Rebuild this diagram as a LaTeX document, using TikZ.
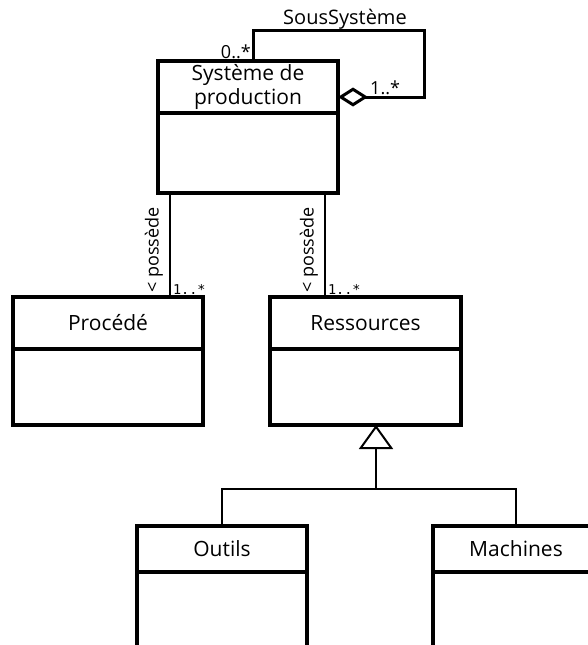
\documentclass[tikz,border=0pt]{standalone}
\usepackage{fontspec}
\setmainfont{Open Sans}
\newfontfamily\multfont{DejaVu Sans Mono}
\usetikzlibrary{positioning, arrows.meta}

\tikzset{
  classhead/.style={draw, rectangle, line width=3.5pt, outer sep=0pt, inner sep=2pt, align=center, font=\fontsize{21}{24}\selectfont},
  classbody/.style={draw, rectangle, line width=3.5pt, outer sep=0pt},
  assoc/.style={line width=2pt},
  selfassoc/.style={line width=3pt},
  role/.style={font=\fontsize{18}{20}\selectfont, inner sep=2pt},
  mult/.style={font=\multfont\fontsize{13.5}{15}\selectfont, inner sep=2pt},
}

\begin{document}
\begin{tikzpicture}[x=1pt, y=-1pt]
  \clip (0,0) rectangle (588,645);

  % classes: name compartment + empty body
  \node[classhead, minimum width=180, minimum height=52] (sys) at (248,87) {Système de\\production};
  \node[classbody, minimum width=180, minimum height=80, below=0pt of sys] (sysb) {};

  \node[classhead, minimum width=190, minimum height=52] (proc) at (108,323) {Procédé};
  \node[classbody, minimum width=190, minimum height=76, below=0pt of proc] (procb) {};

  \node[classhead, minimum width=191, minimum height=52] (res) at (365.5,323) {Ressources};
  \node[classbody, minimum width=191, minimum height=76, below=0pt of res] (resb) {};

  \node[classhead, minimum width=170, minimum height=46] (outils) at (222,549) {Outils};
  \node[classbody, minimum width=170, minimum height=90, below=0pt of outils] (outilsb) {};

  \node[classhead, minimum width=166, minimum height=46] (mach) at (516,549) {Machines};
  \node[classbody, minimum width=166, minimum height=90, below=0pt of mach] (machb) {};

  % self aggregation
  \coordinate (selfx) at (253,0);
  \coordinate (loopc) at (424,30);
  \draw[selfassoc, {Diamond[open, length=30pt, width=19pt]}-] ([yshift=-10pt]sys.east) -| (loopc) -| (sys.north -| selfx);
  \node[role, font=\fontsize{20}{22}\selectfont] at (345,19) {SousSystème};
  \node[role, anchor=south east] at (sys.north -| selfx) {0..*};
  \node[role, anchor=south west] at ([xshift=30pt, yshift=-10pt]sys.east) {1..*};

  % associations
  \coordinate (x1) at (170,0);
  \coordinate (x2) at (325,0);
  \draw[assoc] (sysb.south -| x1) -- node[role, rotate=90, anchor=south, pos=0.55, inner sep=6pt] {< possède}
    node[mult, pos=1, anchor=south west] {1..*} (proc.north -| x1);
  \draw[assoc] (sysb.south -| x2) -- node[role, rotate=90, anchor=south, pos=0.55, inner sep=6pt] {< possède}
    node[mult, pos=1, anchor=south west] {1..*} (res.north -| x2);

  % generalisation
  \coordinate (hub) at (376,489);
  \draw[assoc, -{Triangle[open, length=24pt, width=34pt]}] (hub) -- (resb.south -| hub);
  \draw[assoc] (outils.north) |- (hub) -| (mach.north);
\end{tikzpicture}
\end{document}
